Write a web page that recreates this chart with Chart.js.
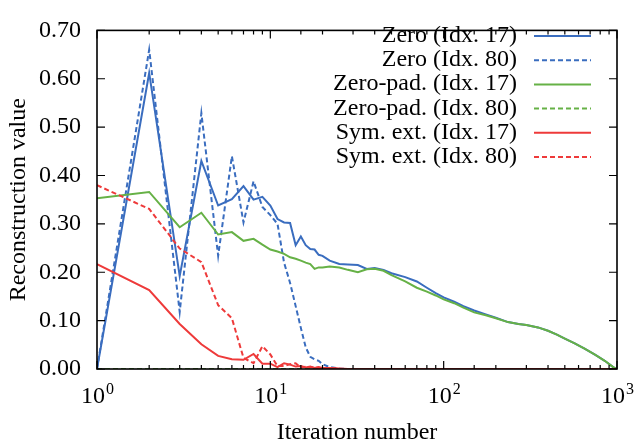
<!DOCTYPE html>
<html>
<head>
<meta charset="utf-8">
<script src="https://cdn.jsdelivr.net/npm/chart.js@4.4.1/dist/chart.umd.min.js"></script>
<style>
  html, body { margin: 0; padding: 0; background: #fff; }
  #wrap { width: 638px; height: 447px; }
</style>
</head>
<body>
<div id="wrap"><canvas id="reconChart" width="638" height="447"></canvas></div>
<script>
const iterations = [
    1, 2, 3, 4, 5, 6, 7, 8, 9, 10,
    11, 12, 13, 14, 15, 16, 17, 18, 19, 20,
    22, 25, 28, 32, 36, 40, 45, 50,
    60, 70, 80, 90, 100,
    115, 130, 150, 175, 200,
    235, 270, 300, 350, 400, 450, 500,
    570, 650, 750, 850, 950, 1000
];

const zeroIdx17 = [
    0.000, 0.612, 0.192, 0.430, 0.338, 0.351, 0.378, 0.350, 0.356, 0.338,
    0.310, 0.303, 0.302, 0.256, 0.274, 0.256, 0.248, 0.247, 0.236, 0.234,
    0.224, 0.217, 0.216, 0.215, 0.207, 0.209, 0.205, 0.198,
    0.190, 0.181, 0.168, 0.157, 0.148,
    0.139, 0.130, 0.121, 0.113, 0.106,
    0.097, 0.093, 0.091, 0.086, 0.079, 0.071, 0.063,
    0.053, 0.042, 0.029, 0.017, 0.004, 0.000
];

const zeroIdx80 = [
    0.000, 0.660, 0.118, 0.529, 0.234, 0.440, 0.303, 0.388, 0.335, 0.318,
    0.300, 0.220, 0.178, 0.130, 0.085, 0.045, 0.025, 0.020, 0.017, 0.010,
    0.004, 0.001, 0, 0, 0, 0, 0, 0,
    0, 0, 0, 0, 0,
    0, 0, 0, 0, 0,
    0, 0, 0, 0, 0, 0, 0,
    0, 0, 0, 0, 0, 0
];

const zeroPadIdx17 = [
    0.353, 0.366, 0.293, 0.323, 0.278, 0.283, 0.265, 0.269, 0.257, 0.247,
    0.243, 0.238, 0.231, 0.228, 0.224, 0.220, 0.217, 0.207, 0.210, 0.210,
    0.212, 0.210, 0.205, 0.200, 0.206, 0.207, 0.203, 0.194,
    0.181, 0.168, 0.160, 0.152, 0.144,
    0.136, 0.127, 0.117, 0.111, 0.105,
    0.097, 0.093, 0.091, 0.086, 0.079, 0.071, 0.063,
    0.053, 0.042, 0.029, 0.017, 0.004, 0.000
];

const zeroPadIdx80 = [
    0, 0, 0, 0, 0, 0, 0, 0, 0, 0,
    0, 0, 0, 0, 0, 0, 0, 0, 0, 0,
    0, 0, 0, 0, 0, 0, 0, 0,
    0, 0, 0, 0, 0,
    0, 0, 0, 0, 0,
    0, 0, 0, 0, 0, 0, 0,
    0, 0, 0, 0, 0, 0
];

const symExtIdx17 = [
    0.217, 0.163, 0.093, 0.051, 0.027, 0.020, 0.019, 0.031, 0.011, 0.011,
    0.004, 0.012, 0.009, 0.005, 0.006, 0.003, 0.005, 0.002, 0.004, 0.002,
    0.002, 0.001, 0, 0, 0, 0, 0, 0,
    0, 0, 0, 0, 0,
    0, 0, 0, 0, 0,
    0, 0, 0, 0, 0, 0, 0,
    0, 0, 0, 0, 0, 0
];

const symExtIdx80 = [
    0.380, 0.331, 0.249, 0.221, 0.132, 0.105, 0.023, 0.012, 0.047, 0.030,
    0.006, 0.006, 0.010, 0.012, 0.003, 0.005, 0.003, 0.004, 0.002, 0.001,
    0.002, 0, 0, 0, 0, 0, 0, 0,
    0, 0, 0, 0, 0,
    0, 0, 0, 0, 0,
    0, 0, 0, 0, 0, 0, 0,
    0, 0, 0, 0, 0, 0
];

const seriesLabels = [
    'Zero (Idx. 17)', 'Zero (Idx. 80)',
    'Zero-pad. (Idx. 17)', 'Zero-pad. (Idx. 80)',
    'Sym. ext. (Idx. 17)', 'Sym. ext. (Idx. 80)'
];
const seriesValues = [zeroIdx17, zeroIdx80, zeroPadIdx17, zeroPadIdx80, symExtIdx17, symExtIdx80];
const seriesColors = ['#3a6dbf', '#3a6dbf', '#66b146', '#66b146', '#ee3a3a', '#ee3a3a'];
const seriesDashed = [false, true, false, true, false, true];

// x tick labels as base + exponent (drawn with a raised exponent)
const xTickValues = [1, 10, 100, 1000];
const xTickLabels = [['10', '0'], ['10', '1'], ['10', '2'], ['10', '3']];

const FONT = '"Liberation Serif", "Times New Roman", serif';
const DASH = [5, 3];

function toPoints(values) {
    return iterations.map((x, i) => ({ x: x, y: values[i] }));
}

// frame, inward ticks, x labels with exponents, and the gnuplot style key
const framePlugin = {
    id: 'frame',
    afterDraw(chart) {
        const ctx = chart.ctx;
        const a = chart.chartArea;
        const xs = chart.scales.x;
        const ys = chart.scales.y;
        ctx.save();

        ctx.strokeStyle = '#000';
        ctx.lineWidth = 1.2;
        ctx.beginPath();
        ys.ticks.forEach(t => {
            const py = ys.getPixelForValue(t.value);
            ctx.moveTo(a.left, py); ctx.lineTo(a.left + 8, py);
            ctx.moveTo(a.right, py); ctx.lineTo(a.right - 8, py);
        });
        xs.ticks.forEach(t => {
            const px = xs.getPixelForValue(t.value);
            const len = t.major ? 8 : 4;
            ctx.moveTo(px, a.bottom); ctx.lineTo(px, a.bottom - len);
            ctx.moveTo(px, a.top); ctx.lineTo(px, a.top + len);
        });
        ctx.stroke();

        ctx.lineWidth = 1.6;
        ctx.strokeRect(a.left, a.top, a.right - a.left, a.bottom - a.top);

        ctx.fillStyle = '#000';
        ctx.textBaseline = 'alphabetic';
        ctx.textAlign = 'left';
        xTickValues.forEach((v, i) => {
            const [base, exp] = xTickLabels[i];
            ctx.font = '24px ' + FONT;
            const wb = ctx.measureText(base).width;
            ctx.font = '16px ' + FONT;
            const we = ctx.measureText(exp).width;
            const x0 = xs.getPixelForValue(v) - (wb + we) / 2;
            ctx.font = '24px ' + FONT;
            ctx.fillText(base, x0, 403);
            ctx.font = '16px ' + FONT;
            ctx.fillText(exp, x0 + wb + 1, 394);
        });

        ctx.font = '24px ' + FONT;
        ctx.textAlign = 'right';
        chart.data.datasets.forEach((ds, i) => {
            const rowY = 36 + i * 24.2;
            ctx.fillStyle = '#000';
            ctx.fillText(ds.label, 517, rowY + 6);
            ctx.strokeStyle = ds.borderColor;
            ctx.lineWidth = 2;
            ctx.setLineDash(ds.borderDash);
            ctx.beginPath();
            ctx.moveTo(534, rowY);
            ctx.lineTo(591, rowY);
            ctx.stroke();
            ctx.setLineDash([]);
        });

        ctx.restore();
    }
};

const datasets = seriesLabels.map((label, i) => ({
    label: label,
    data: toPoints(seriesValues[i]),
    borderColor: seriesColors[i],
    backgroundColor: seriesColors[i],
    borderWidth: 2,
    borderDash: seriesDashed[i] ? DASH : [],
    pointRadius: 0,
    tension: 0,
    fill: false,
    order: seriesLabels.length - i
}));

const ctx = document.getElementById('reconChart').getContext('2d');
const chart = new Chart(ctx, {
    type: 'line',
    data: { datasets: datasets },
    options: {
        responsive: false,
        animation: false,
        layout: { padding: { top: 16, right: 21, left: 0, bottom: 0 } },
        plugins: {
            legend: { display: false },
            tooltip: { enabled: false }
        },
        scales: {
            x: {
                type: 'logarithmic',
                min: 1,
                max: 1000,
                grid: { display: false, drawTicks: false },
                border: { display: false },
                ticks: { display: false },
                title: {
                    display: true,
                    text: 'Iteration number',
                    color: '#000',
                    font: { family: FONT, size: 24 },
                    padding: { top: 0, bottom: 0 }
                },
                afterFit(scale) { scale.height = 78; }
            },
            y: {
                min: 0,
                max: 0.7,
                grid: { display: false, drawTicks: false },
                border: { display: false },
                ticks: {
                    stepSize: 0.1,
                    padding: 16,
                    color: '#000',
                    font: { family: FONT, size: 24 },
                    callback: v => v.toFixed(2)
                },
                title: {
                    display: true,
                    text: 'Reconstruction value',
                    color: '#000',
                    font: { family: FONT, size: 24 },
                    padding: { top: 4, bottom: 4 }
                },
                afterFit(scale) { scale.width = 97; }
            }
        }
    },
    plugins: [framePlugin]
});
</script>
</body>
</html>
